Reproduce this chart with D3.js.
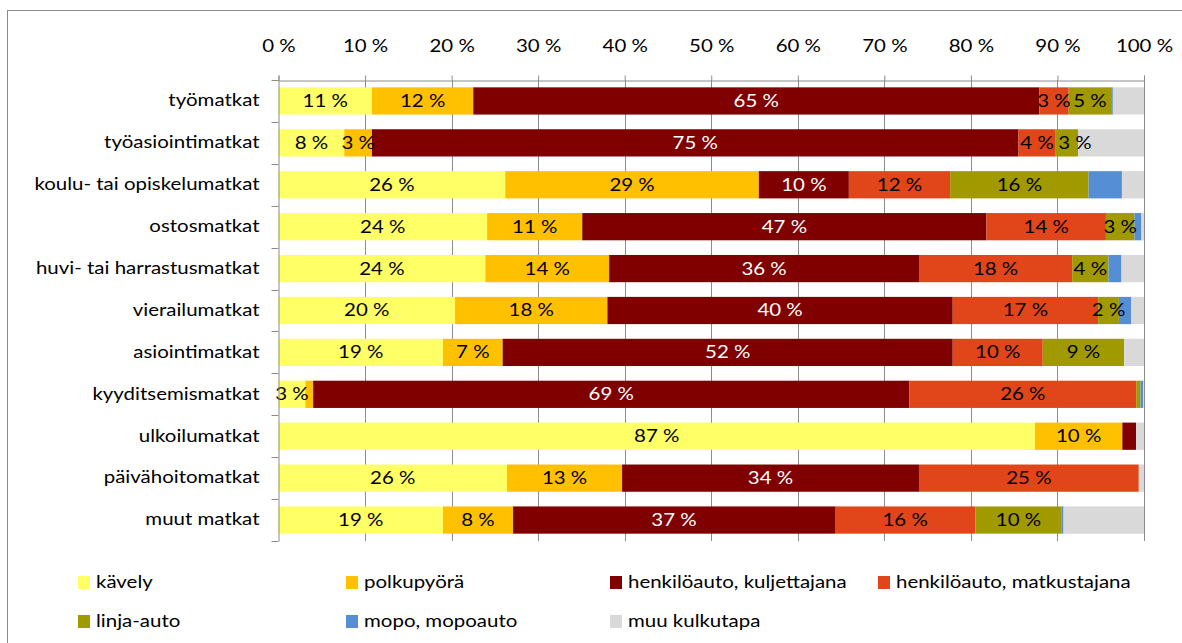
<!DOCTYPE html>
<html>
<head>
<meta charset="utf-8">
<script src="https://cdn.jsdelivr.net/npm/d3@7"></script>
<style>
  html, body { margin: 0; padding: 0; background: #fff; }
  svg { display: block; }
  text { font-family: Lato, "Open Sans", sans-serif; }
</style>
</head>
<body>
<svg id="chart" width="1182" height="643"></svg>
<script>
const categories = ["työmatkat", "työasiointimatkat", "koulu- tai opiskelumatkat", "ostosmatkat",
  "huvi- tai harrastusmatkat", "vierailumatkat", "asiointimatkat", "kyyditsemismatkat",
  "ulkoilumatkat", "päivähoitomatkat", "muut matkat"];
const seriesNames = ["kävely", "polkupyörä", "henkilöauto, kuljettajana", "henkilöauto, matkustajana",
  "linja-auto", "mopo, mopoauto", "muu kulkutapa"];
const seriesColors = ["#FFFF66", "#FFC000", "#800000", "#E0461A", "#A09A00", "#558ED5", "#D9D9D9"];
// values per series, in category order (%)
const kavely      = [10.8, 7.6, 26.2, 24.1, 23.9, 20.4, 19.0, 3.1, 87.4, 26.4, 19.0];
const polkupyora  = [11.7, 3.2, 29.3, 11.0, 14.3, 17.6, 6.9, 0.9, 10.1, 13.3, 8.1];
const kuljettaja  = [65.4, 74.7, 10.4, 46.7, 35.8, 39.9, 52.0, 68.9, 1.6, 34.3, 37.2];
const matkustaja  = [3.4, 4.3, 11.7, 13.8, 17.7, 16.8, 10.4, 26.2, 0, 25.4, 16.2];
const linjaauto   = [4.9, 2.6, 16.0, 3.3, 4.2, 2.4, 9.4, 0.5, 0, 0, 10.0];
const mopo        = [0.2, 0, 3.85, 0.8, 1.5, 1.4, 0, 0.3, 0, 0, 0.2];
const muu         = [3.6, 7.6, 2.55, 0.3, 2.6, 1.5, 2.3, 0.1, 0.9, 0.6, 9.3];
const tickValues = [0, 10, 20, 30, 40, 50, 60, 70, 80, 90, 100];
const labelledSeries = [true, true, true, true, true, false, false];
const whiteLabelSeries = [false, false, true, false, false, false, false];
// small horizontal nudges of individual labels (pixels), as in the reference
const labelNudge = { "työasiointimatkat|linja-auto": 8 };

const seriesValues = [kavely, polkupyora, kuljettaja, matkustaja, linjaauto, mopo, muu];
const rows = categories.map((c, i) => {
  const r = { cat: c };
  seriesNames.forEach((s, k) => r[s] = seriesValues[k][i]);
  return r;
});
const stacked = d3.stack().keys(seriesNames)(rows);

const svg = d3.select("#chart");
const pLeft = 278.5, pRight = 1144, pTop = 80, pBottom = 541;
const x = d3.scaleLinear().domain([0, 100]).range([pLeft, pRight]);
const y = d3.scaleBand().domain(categories).range([pTop, pBottom]).paddingInner(0.35).paddingOuter(0.175);
const fmt = v => d3.format(".0f")(v) + " %";
const gridColor = "#8C8C8C";
const FS = 16.5, SX = 1.24;

// horizontally widen text (reference font is wide for its height)
function widen(sel) {
  sel.each(function () {
    const t = d3.select(this);
    const tx = +t.attr("x") || 0, ty = +t.attr("y") || 0;
    t.attr("x", 0).attr("y", 0).attr("transform", `translate(${tx},${ty}) scale(${SX},1)`);
  });
}

// outer border
svg.append("rect").attr("x", 7.5).attr("y", 10.5).attr("width", 1300).attr("height", 800)
  .attr("fill", "none").attr("stroke", "#8C8C8C").attr("stroke-width", 1);

// gridlines
svg.append("g").selectAll("line").data(tickValues.slice(1)).join("line")
  .attr("x1", d => Math.round(x(d)) + 0.5).attr("x2", d => Math.round(x(d)) + 0.5)
  .attr("y1", pTop).attr("y2", pBottom)
  .attr("stroke", gridColor).attr("stroke-width", 1);

// top axis
const xAxis = d3.axisTop(x).tickValues(tickValues).tickSize(5).tickPadding(24).tickFormat(d => d + " %");
const gx = svg.append("g").attr("transform", `translate(0,${pTop + 0.5})`).call(xAxis);
gx.select(".domain").attr("stroke", gridColor);
gx.selectAll(".tick line").attr("stroke", gridColor);
gx.selectAll(".tick text").attr("font-size", FS).attr("fill", "#000").call(widen);

// bars
const layers = svg.append("g").selectAll("g").data(stacked).join("g")
  .attr("fill", (d, i) => seriesColors[i]);
layers.selectAll("rect").data(d => d).join("rect")
  .attr("x", d => x(d[0])).attr("width", d => Math.max(0, x(d[1]) - x(d[0])))
  .attr("y", d => y(d.data.cat)).attr("height", y.bandwidth());

// data labels
const lbl = svg.append("g");
stacked.forEach((layer, k) => {
  if (!labelledSeries[k]) return;
  lbl.selectAll(null).data(layer.filter(d => d[1] - d[0] >= 2)).join("text")
    .attr("x", d => (x(d[0]) + x(d[1])) / 2 + (labelNudge[d.data.cat + "|" + layer.key] || 0))
    .attr("y", d => y(d.data.cat) + y.bandwidth() / 2)
    .attr("dy", "0.36em")
    .attr("text-anchor", "middle")
    .attr("font-size", FS)
    .attr("fill", whiteLabelSeries[k] ? "#fff" : "#000")
    .text(d => fmt(d[1] - d[0]))
    .call(widen);
});

// left axis
const yAxis = d3.axisLeft(y).tickSize(0).tickPadding(19);
const gy = svg.append("g").attr("transform", `translate(${pLeft},0)`).call(yAxis);
gy.select(".domain").attr("stroke", gridColor);
gy.selectAll(".tick text").attr("font-size", FS).attr("fill", "#000").call(widen);
// category boundary ticks
const bounds = categories.map(c => y(c) - y.step() * y.paddingInner() / 2).concat([pBottom]);
svg.append("g").selectAll("line").data(bounds).join("line")
  .attr("x1", pLeft - 7).attr("x2", pLeft)
  .attr("y1", d => Math.round(d) + 0.5).attr("y2", d => Math.round(d) + 0.5)
  .attr("stroke", gridColor);

// legend
const legendCols = [78, 346, 610, 878];
const legendRows = [576, 615];
const lg = svg.append("g").selectAll("g").data(seriesNames).join("g")
  .attr("transform", (d, i) => `translate(${legendCols[i % 4]},${legendRows[Math.floor(i / 4)]})`);
lg.append("rect").attr("width", 12).attr("height", 13).attr("fill", (d, i) => seriesColors[i]);
lg.append("text").attr("x", 18).attr("y", 6.5).attr("dy", "0.36em")
  .attr("font-size", FS).attr("fill", "#000").text(d => d).call(widen);
</script>
</body>
</html>
